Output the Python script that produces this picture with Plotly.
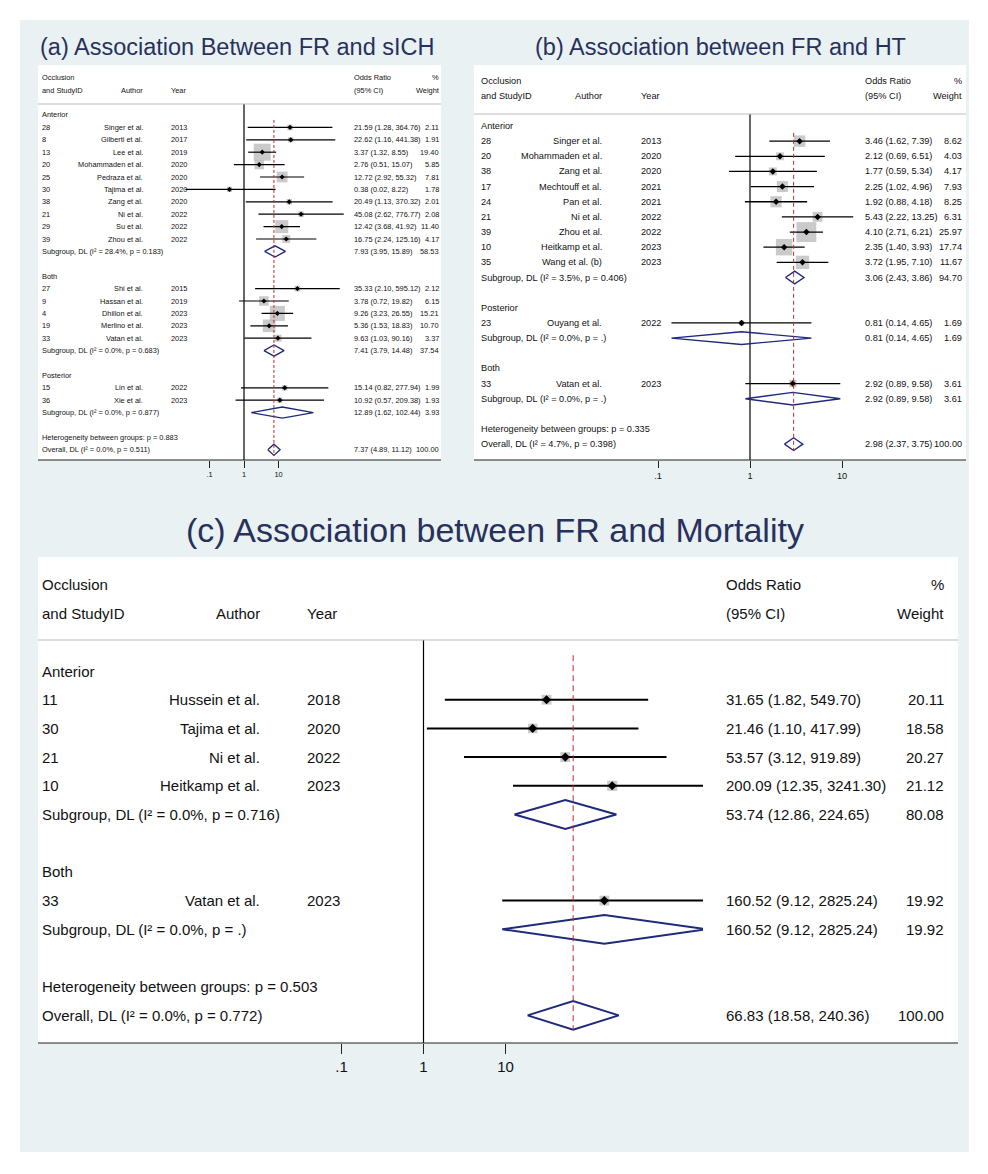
import math
import plotly.graph_objects as go

W, H = 988, 1174

# ------------------------------------------------------------------ titles
TITLE_A = "(a) Association Between FR and sICH"
TITLE_B = "(b) Association between FR and HT"
TITLE_C = "(c) Association between FR and Mortality"

# ------------------------------------------------------------------ panel (a) sICH
a_group = ["Anterior"] * 10 + ["Both"] * 5 + ["Posterior"] * 2
a_id = ["28", "8", "13", "20", "25", "30", "38", "21", "29", "39",
        "27", "9", "4", "19", "33", "15", "36"]
a_author = ["Singer et al.", "Gilberti et al.", "Lee et al.", "Mohammaden et al.",
            "Pedraza et al.", "Tajima et al.", "Zang et al.", "Ni et al.", "Su et al.",
            "Zhou et al.", "Shi et al.", "Hassan et al.", "Dhillon et al.",
            "Merlino et al.", "Vatan et al.", "Lin et al.", "Xie et al."]
a_year = ["2013", "2017", "2019", "2020", "2020", "2020", "2020", "2022", "2022", "2022",
          "2015", "2019", "2023", "2023", "2023", "2022", "2023"]
a_or = [21.59, 22.62, 3.37, 2.76, 12.72, 0.38, 20.49, 45.08, 12.42, 16.75,
        35.33, 3.78, 9.26, 5.36, 9.63, 15.14, 10.92]
a_lo = [1.28, 1.16, 1.32, 0.51, 2.92, 0.02, 1.13, 2.62, 3.68, 2.24,
        2.10, 0.72, 3.23, 1.53, 1.03, 0.82, 0.57]
a_hi = [364.76, 441.38, 8.55, 15.07, 55.32, 8.22, 370.32, 776.77, 41.92, 125.16,
        595.12, 19.82, 26.55, 18.83, 90.16, 277.94, 209.38]
a_wt = [2.11, 1.91, 19.40, 5.85, 7.81, 1.78, 2.01, 2.08, 11.40, 4.17,
        2.12, 6.15, 15.21, 10.70, 3.37, 1.99, 1.93]
a_sub_group = ["Anterior", "Both", "Posterior"]
a_sub_i2 = ["28.4%", "0.0%", "0.0%"]
a_sub_p = ["0.183", "0.683", "0.877"]
a_sub_or = [7.93, 7.41, 12.89]
a_sub_lo = [3.95, 3.79, 1.62]
a_sub_hi = [15.89, 14.48, 102.44]
a_sub_wt = [58.53, 37.54, 3.93]
a_het_p = "0.883"
a_all = {"i2": "0.0%", "p": "0.511", "or": 7.37, "lo": 4.89, "hi": 11.12, "wt": 100.00}

# ------------------------------------------------------------------ panel (b) HT
b_group = ["Anterior"] * 9 + ["Posterior"] + ["Both"]
b_id = ["28", "20", "38", "17", "24", "21", "39", "10", "35", "23", "33"]
b_author = ["Singer et al.", "Mohammaden et al.", "Zang et al.", "Mechtouff et al.",
            "Pan et al.", "Ni et al.", "Zhou et al.", "Heitkamp et al.",
            "Wang et al. (b)", "Ouyang et al.", "Vatan et al."]
b_year = ["2013", "2020", "2020", "2021", "2021", "2022", "2022", "2023", "2023",
          "2022", "2023"]
b_or = [3.46, 2.12, 1.77, 2.25, 1.92, 5.43, 4.10, 2.35, 3.72, 0.81, 2.92]
b_lo = [1.62, 0.69, 0.59, 1.02, 0.88, 2.22, 2.71, 1.40, 1.95, 0.14, 0.89]
b_hi = [7.39, 6.51, 5.34, 4.96, 4.18, 13.25, 6.21, 3.93, 7.10, 4.65, 9.58]
b_wt = [8.62, 4.03, 4.17, 7.93, 8.25, 6.31, 25.97, 17.74, 11.67, 1.69, 3.61]
b_sub_group = ["Anterior", "Posterior", "Both"]
b_sub_i2 = ["3.5%", "0.0%", "0.0%"]
b_sub_p = ["0.406", ".", "."]
b_sub_or = [3.06, 0.81, 2.92]
b_sub_lo = [2.43, 0.14, 0.89]
b_sub_hi = [3.86, 4.65, 9.58]
b_sub_wt = [94.70, 1.69, 3.61]
b_het_p = "0.335"
b_all = {"i2": "4.7%", "p": "0.398", "or": 2.98, "lo": 2.37, "hi": 3.75, "wt": 100.00}

# ------------------------------------------------------------------ panel (c) Mortality
c_group = ["Anterior"] * 4 + ["Both"]
c_id = ["11", "30", "21", "10", "33"]
c_author = ["Hussein et al.", "Tajima et al.", "Ni et al.", "Heitkamp et al.", "Vatan et al."]
c_year = ["2018", "2020", "2022", "2023", "2023"]
c_or = [31.65, 21.46, 53.57, 200.09, 160.52]
c_lo = [1.82, 1.10, 3.12, 12.35, 9.12]
c_hi = [549.70, 417.99, 919.89, 3241.30, 2825.24]
c_wt = [20.11, 18.58, 20.27, 21.12, 19.92]
c_sub_group = ["Anterior", "Both"]
c_sub_i2 = ["0.0%", "0.0%"]
c_sub_p = ["0.716", "."]
c_sub_or = [53.74, 160.52]
c_sub_lo = [12.86, 9.12]
c_sub_hi = [224.65, 2825.24]
c_sub_wt = [80.08, 19.92]
c_het_p = "0.503"
c_all = {"i2": "0.0%", "p": "0.772", "or": 66.83, "lo": 18.58, "hi": 240.36, "wt": 100.00}

tick_vals = [0.1, 1, 10]
tick_text = [".1", "1", "10"]

# ------------------------------------------------------------------ styling
FONT = "Liberation Sans, Arial, Helvetica, sans-serif"
TXT = "#111111"
TITLE_COL = "#28315c"
BG = "#e9f1f3"
GREY = "#b3b3b3"
NAVY = "#1f2a7c"
RED = "#c62828"

fig = go.Figure()
annotations = []
shapes = []

# page background
shapes.append(dict(type="rect", xref="paper", yref="paper", x0=20 / W, x1=969 / W,
                   y0=1 - 1152 / H, y1=1 - 20 / H, fillcolor=BG, line_width=0, layer="below"))


def px_x(v):
    return v / W


def px_y(v):
    return 1 - v / H


def panel(n, group, ids, authors, years, ors, los, his, wts,
          sub_group, sub_i2, sub_p, sub_or, sub_lo, sub_hi, sub_wt, het_p, allr, g):
    xn = "x" if n == 1 else f"x{n}"
    yn = "y" if n == 1 else f"y{n}"
    xl = "xaxis" if n == 1 else f"xaxis{n}"
    yl = "yaxis" if n == 1 else f"yaxis{n}"
    bl, bt, br, bb = g["box"]
    clip = g.get("clip", br)
    fs = g["fs"]

    # row layout
    r = 0
    label_rows, sub_rows = [], []
    study_rows = [None] * len(ids)
    for gname in sub_group:
        label_rows.append((gname, r))
        r += 1
        for i, gg in enumerate(group):
            if gg == gname:
                study_rows[i] = r
                r += 1
        sub_rows.append(r)
        r += 2
    het_row = r
    ov_row = r + 1

    def row_of(py):
        return (py - g["y0"]) / g["s"]

    sep_row = row_of(g["sep"])
    bot_row = row_of(bb)

    # white panel box
    shapes.append(dict(type="rect", xref="paper", yref="paper", x0=px_x(bl), x1=px_x(br),
                       y0=px_y(bb), y1=px_y(bt), fillcolor="white", line_width=0, layer="below"))
    # header separator
    shapes.append(dict(type="line", xref="paper", yref="paper", x0=px_x(bl), x1=px_x(br),
                       y0=px_y(g["sep"]), y1=px_y(g["sep"]), line=dict(color="#bdbdbd", width=1)))
    # bottom axis line
    shapes.append(dict(type="line", xref="paper", yref="paper", x0=px_x(bl), x1=px_x(br),
                       y0=px_y(bb), y1=px_y(bb), line=dict(color="#222222", width=1.2)))

    fig.update_layout({
        xl: dict(type="log", domain=[px_x(bl), px_x(clip)],
                 range=[(bl - g["null"]) / g["dec"], (clip - g["null"]) / g["dec"]],
                 anchor=yn, tickvals=tick_vals, ticktext=tick_text, ticks="outside",
                 ticklen=g["tl"], tickwidth=1, tickcolor="#222222", showline=False,
                 showgrid=False, zeroline=False, fixedrange=True,
                 tickfont=dict(family=FONT, size=fs, color=TXT)),
        yl: dict(domain=[px_y(bb), px_y(bt)], range=[bot_row, row_of(bt)], anchor=xn,
                 visible=False, fixedrange=True),
    })

    common = dict(xaxis=xn, yaxis=yn, hoverinfo="skip", showlegend=False)
    # null line
    fig.add_trace(go.Scatter(x=[1, 1], y=[sep_row, bot_row], mode="lines",
                             line=dict(color="black", width=1.2), **common))
    # weight squares
    fig.add_trace(go.Scatter(x=ors, y=study_rows, mode="markers",
                             marker=dict(symbol="square", color=GREY,
                                         size=[g["k"] * math.sqrt(w) for w in wts], line_width=0),
                             **common))
    # CI lines
    cx, cy = [], []
    for lo, hi, rr in zip(los, his, study_rows):
        cx += [lo, hi, None]
        cy += [rr, rr, None]
    fig.add_trace(go.Scatter(x=cx, y=cy, mode="lines",
                             line=dict(color="black", width=g["lw"]), **common))
    # point estimates
    fig.add_trace(go.Scatter(x=ors, y=study_rows, mode="markers",
                             marker=dict(symbol="diamond", color="black", size=g["ps"]), **common))
    # diamonds
    h = g["dh"]
    dx, dy = [], []
    for o, lo, hi, rr in list(zip(sub_or, sub_lo, sub_hi, sub_rows)) + [
            (allr["or"], allr["lo"], allr["hi"], ov_row)]:
        dx += [lo, o, hi, o, lo, None]
        dy += [rr, rr - h, rr, rr + h, rr, None]
    fig.add_trace(go.Scatter(x=dx, y=dy, mode="lines",
                             line=dict(color=NAVY, width=g["dw"]), **common))
    # overall dashed line
    fig.add_trace(go.Scatter(x=[allr["or"], allr["or"]], y=[g["red0"], ov_row + h], mode="lines",
                             line=dict(color=RED, width=1, dash=g["dash"]), **common))

    # ---------------- text
    def t(text, xpx, row, anchor="left"):
        annotations.append(dict(text=text, x=px_x(xpx), xref="paper", y=row, yref=yn,
                                xanchor=anchor, yanchor="middle", showarrow=False,
                                font=dict(family=FONT, size=fs, color=TXT)))

    c = g["cols"]
    t("Occlusion", c["id"], -3)
    t("and StudyID", c["id"], -2)
    t("Author", c["auth"], -2, "right")
    t("Year", c["year"], -2)
    t("Odds Ratio", c["es"], -3)
    t("(95% CI)", c["es"], -2)
    t("%", c["wt"], -3, "right")
    t("Weight", c["wt"], -2, "right")
    for gname, rr in label_rows:
        t(gname, c["id"], rr)
    for i, rr in enumerate(study_rows):
        t(ids[i], c["id"], rr)
        t(authors[i], c["auth"], rr, "right")
        t(years[i], c["year"], rr)
        t(f"{ors[i]:.2f} ({los[i]:.2f}, {his[i]:.2f})", c["es"], rr)
        t(f"{wts[i]:.2f}", c["wt"], rr, "right")
    for j, rr in enumerate(sub_rows):
        t(f"Subgroup, DL (I² = {sub_i2[j]}, p = {sub_p[j]})", c["id"], rr)
        t(f"{sub_or[j]:.2f} ({sub_lo[j]:.2f}, {sub_hi[j]:.2f})", c["es"], rr)
        t(f"{sub_wt[j]:.2f}", c["wt"], rr, "right")
    t(f"Heterogeneity between groups: p = {het_p}", c["id"], het_row)
    t(f"Overall, DL (I² = {allr['i2']}, p = {allr['p']})", c["id"], ov_row)
    t(f"{allr['or']:.2f} ({allr['lo']:.2f}, {allr['hi']:.2f})", c["es"], ov_row)
    t(f"{allr['wt']:.2f}", c["wt"], ov_row, "right")


geo_a = dict(box=(38, 65, 441, 460), y0=115, s=12.4, null=244, dec=34.5, sep=104,
             fs=7.4, tl=7, k=3.86, ps=4, lw=1.2, dw=1.3, dh=0.45, red0=0.4, dash="3px,2px",
             cols=dict(id=40, auth=145, year=169, es=352, wt=441))
geo_b = dict(box=(474, 65, 966, 460), y0=126, s=15.15, null=750, dec=92, sep=114,
             fs=9.2, tl=7, k=3.9, ps=5, lw=1.3, dw=1.4, dh=0.42, red0=0.45, dash="4px,3px",
             cols=dict(id=479, auth=604, year=639, es=863, wt=964))
geo_c = dict(box=(38, 557, 958, 1043), y0=671, s=28.7, null=423.5, dec=82, sep=640,
             clip=703, fs=15, tl=10, k=2.2, ps=7, lw=2, dw=2, dh=0.5, red0=-0.55, dash="6px,4px",
             cols=dict(id=40, auth=262, year=305, es=724, wt=946))

panel(1, a_group, a_id, a_author, a_year, a_or, a_lo, a_hi, a_wt,
      a_sub_group, a_sub_i2, a_sub_p, a_sub_or, a_sub_lo, a_sub_hi, a_sub_wt, a_het_p, a_all, geo_a)
panel(2, b_group, b_id, b_author, b_year, b_or, b_lo, b_hi, b_wt,
      b_sub_group, b_sub_i2, b_sub_p, b_sub_or, b_sub_lo, b_sub_hi, b_sub_wt, b_het_p, b_all, geo_b)
panel(3, c_group, c_id, c_author, c_year, c_or, c_lo, c_hi, c_wt,
      c_sub_group, c_sub_i2, c_sub_p, c_sub_or, c_sub_lo, c_sub_hi, c_sub_wt, c_het_p, c_all, geo_c)

# panel titles
for text, cx, cy, size in [(TITLE_A, 237, 47, 23.5), (TITLE_B, 720, 47, 23.5), (TITLE_C, 495, 530, 34)]:
    annotations.append(dict(text=text, x=px_x(cx), y=px_y(cy), xref="paper", yref="paper",
                            xanchor="center", yanchor="middle", showarrow=False,
                            font=dict(family=FONT, size=size, color=TITLE_COL)))

fig.update_layout(width=W, height=H, autosize=False, margin=dict(l=0, r=0, t=0, b=0),
                  paper_bgcolor="white", plot_bgcolor="rgba(0,0,0,0)",
                  annotations=annotations, shapes=shapes, showlegend=False)

fig.write_html("out.html", config={"displayModeBar": False},
               post_script="document.body.style.margin='0';document.body.style.overflow='hidden';")
